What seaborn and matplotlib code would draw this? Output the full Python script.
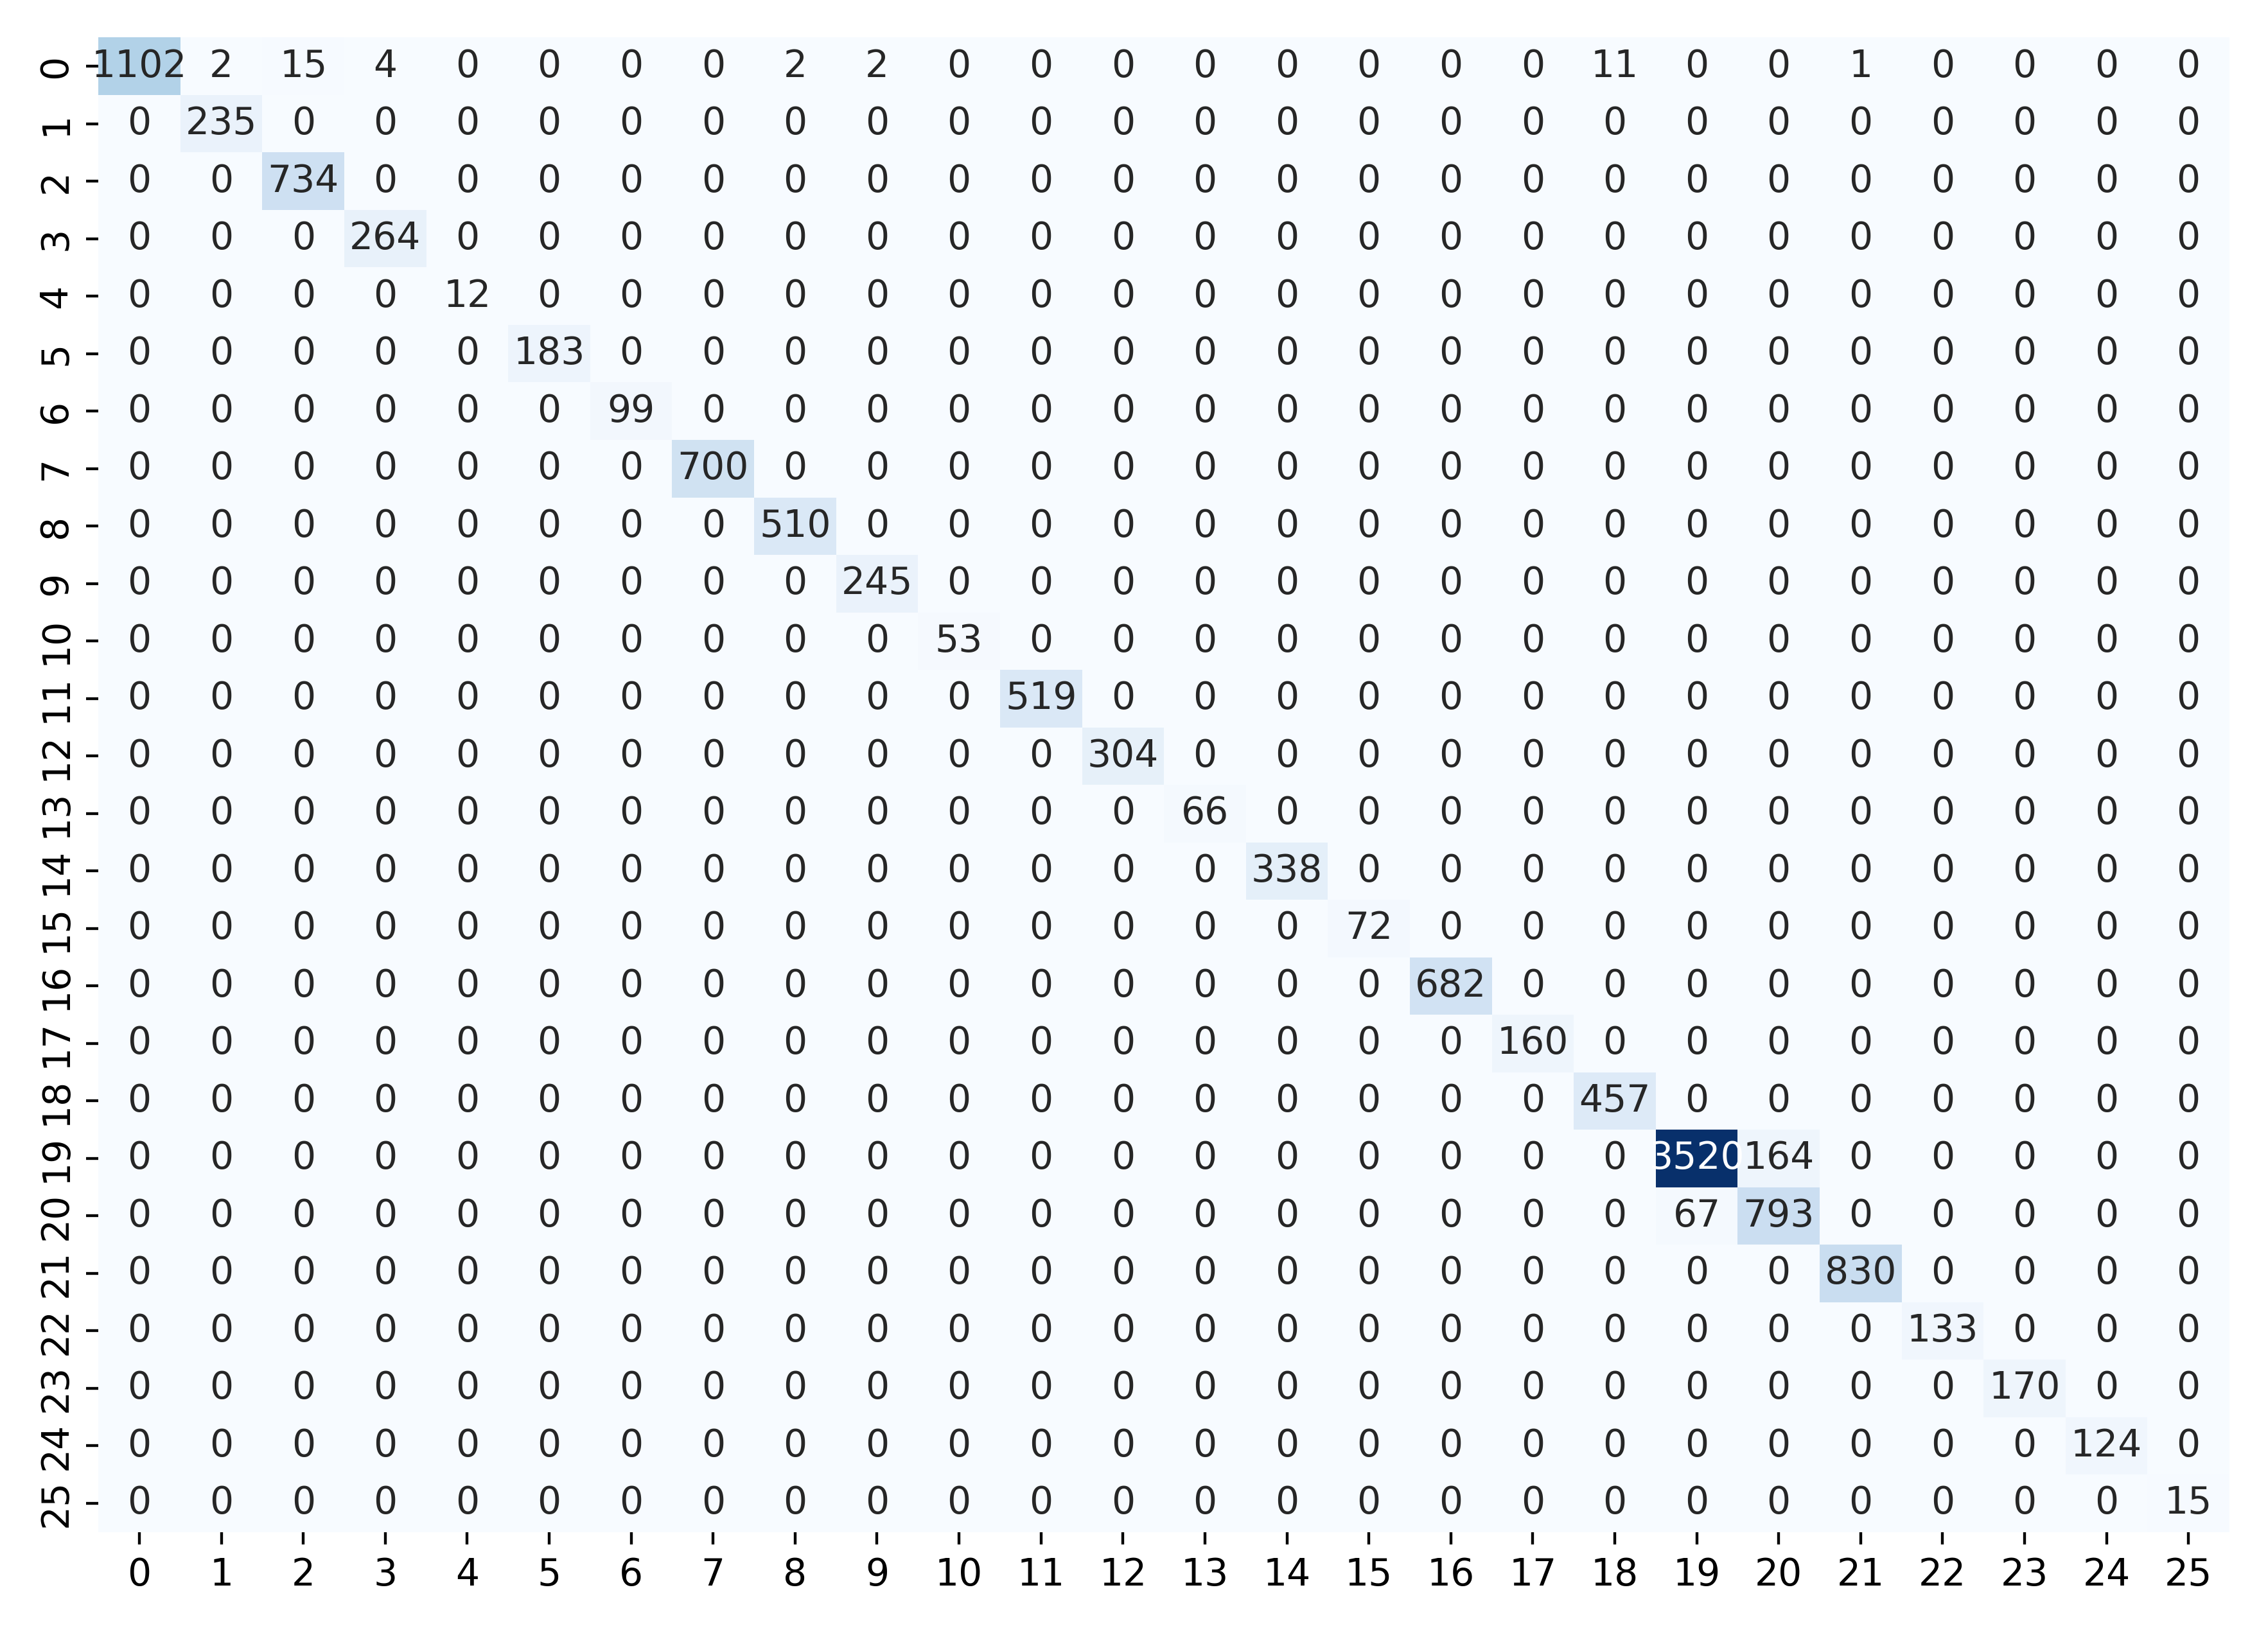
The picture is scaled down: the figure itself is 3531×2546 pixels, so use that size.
import numpy as np
import matplotlib
matplotlib.use("Agg")
import matplotlib.pyplot as plt
import seaborn as sns

# class labels 0..25
labels = [str(i) for i in range(26)]

# correct predictions (diagonal)
diag_counts = [1102, 235, 734, 264, 12, 183, 99, 700, 510, 245, 53, 519, 304,
               66, 338, 72, 682, 160, 457, 3520, 793, 830, 133, 170, 124, 15]

# misclassifications: (true row, predicted col, count)
off_rows = [0, 0, 0, 0, 0, 0, 0, 19, 20]
off_cols = [1, 2, 3, 8, 9, 18, 21, 20, 19]
off_counts = [2, 15, 4, 2, 2, 11, 1, 164, 67]

cm = np.zeros((26, 26), dtype=int)
cm[np.arange(26), np.arange(26)] = diag_counts
cm[off_rows, off_cols] = off_counts

fig = plt.figure(figsize=(11.77, 8.487), dpi=300)
ax = fig.add_axes([0.0434, 0.063, 0.9396, 0.914])

sns.heatmap(cm, annot=True, fmt="d", cmap="Blues", cbar=False,
            xticklabels=labels, yticklabels=labels,
            annot_kws={"fontsize": 14}, ax=ax)

ax.tick_params(axis="both", labelsize=14, length=4.6, width=1.05, pad=4.5)
plt.setp(ax.get_yticklabels(), rotation=90, va="center")
plt.setp(ax.get_xticklabels(), rotation=0)

fig.savefig("out.png", dpi=300)
